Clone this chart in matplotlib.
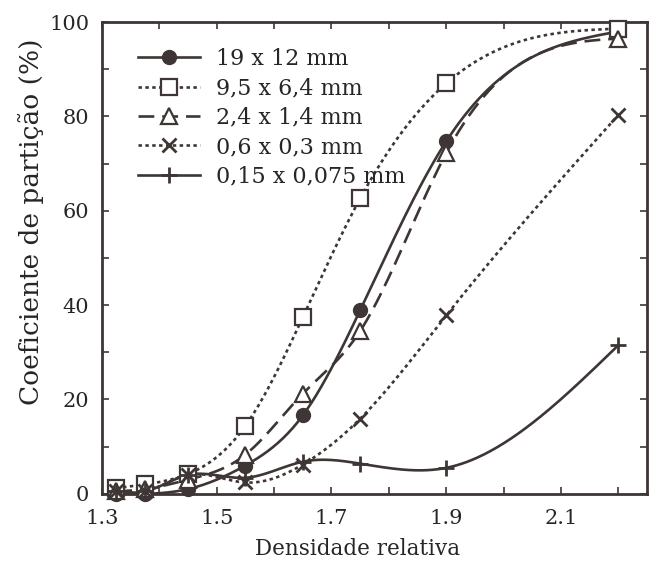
import numpy as np
import matplotlib
matplotlib.use("Agg")
import matplotlib.pyplot as plt
from matplotlib.ticker import MultipleLocator, FixedLocator

# Relative density of the float/sink fractions
densidade = [1.325, 1.375, 1.45, 1.55, 1.65, 1.75, 1.90, 2.20]

# Partition coefficient (%) per particle size class
d_19x12 = [0.0, 0.0, 1.0, 6.0, 16.6, 38.9, 74.7, 98.0]
d_95x64 = [1.2, 2.0, 4.2, 14.4, 37.4, 62.6, 87.0, 98.6]
d_24x14 = [0.5, 1.0, 3.0, 8.3, 21.2, 34.5, 72.2, 96.5]
d_06x03 = [0.5, 0.5, 4.0, 2.4, 6.2, 15.9, 37.8, 80.3]
d_015x0075 = [0.5, 0.5, 4.0, 3.4, 6.8, 6.4, 5.5, 31.5]

labels = ["19 x 12 mm", "9,5 x 6,4 mm", "2,4 x 1,4 mm",
          "0,6 x 0,3 mm", "0,15 x 0,075 mm"]

xticks = [1.3, 1.5, 1.7, 1.9, 2.1]
yticks = [0, 20, 40, 60, 80, 100]


def natural_spline(x, y, n=300):
    """Natural cubic spline through (x, y), evaluated on a fine grid."""
    x = np.asarray(x, float)
    y = np.asarray(y, float)
    m = len(x)
    h = np.diff(x)
    A = np.zeros((m, m))
    b = np.zeros(m)
    A[0, 0] = A[-1, -1] = 1.0
    for i in range(1, m - 1):
        A[i, i - 1] = h[i - 1]
        A[i, i] = 2 * (h[i - 1] + h[i])
        A[i, i + 1] = h[i]
        b[i] = 6 * ((y[i + 1] - y[i]) / h[i] - (y[i] - y[i - 1]) / h[i - 1])
    M = np.linalg.solve(A, b)
    xs = np.linspace(x[0], x[-1], n)
    idx = np.clip(np.searchsorted(x, xs) - 1, 0, m - 2)
    x0, x1 = x[idx], x[idx + 1]
    hh = x1 - x0
    t0 = x1 - xs
    t1 = xs - x0
    ys = (M[idx] * t0 ** 3 / (6 * hh) + M[idx + 1] * t1 ** 3 / (6 * hh)
          + (y[idx] / hh - M[idx] * hh / 6) * t0
          + (y[idx + 1] / hh - M[idx + 1] * hh / 6) * t1)
    return xs, ys


ink = "#3d3634"
txt = "#262626"
plt.rcParams["font.family"] = ["DejaVu Serif"]

fig = plt.figure(figsize=(6.49, 5.65), dpi=100)
ax = fig.add_axes([0.157, 0.126, 0.84, 0.835])

series = [
    (d_19x12, dict(ls="-", marker="o", ms=10, mfc=ink, mec=ink)),
    (d_95x64, dict(ls=(0, (1.3, 1.3)), marker="s", ms=12, mfc="white", mec=ink, mew=1.6)),
    (d_24x14, dict(ls=(0, (6, 3)), marker="^", ms=11, mfc="white", mec=ink, mew=1.6)),
    (d_06x03, dict(ls=(0, (1.3, 1.3)), marker="x", ms=10, mec=ink, mew=2.0)),
    (d_015x0075, dict(ls="-", marker="+", ms=12, mec=ink, mew=2.0)),
]

handles = []
for (vals, style), lab in zip(series, labels):
    xs, ys = natural_spline(densidade, vals)
    ax.plot(xs, ys, color=ink, lw=1.9, ls=style["ls"], clip_on=False,
            solid_capstyle="butt", dash_capstyle="butt")
    mk = {k: v for k, v in style.items() if k != "ls"}
    ax.plot(densidade, vals, ls="none", color=ink, clip_on=False, zorder=3, **mk)
    h, = ax.plot([], [], color=ink, lw=1.9, ls=style["ls"], label=lab, **mk)
    handles.append(h)

ax.set_xlim(1.3, 2.25)
ax.set_ylim(0, 100)
ax.xaxis.set_major_locator(FixedLocator(xticks))
ax.xaxis.set_minor_locator(MultipleLocator(0.1))
ax.yaxis.set_major_locator(FixedLocator(yticks))
ax.yaxis.set_minor_locator(MultipleLocator(10))
ax.set_xticklabels([f"{v:.1f}" for v in xticks])
ax.set_yticklabels([str(v) for v in yticks])

ax.tick_params(which="both", direction="in", top=True, right=True,
               length=5, width=1.2, color=ink, labelsize=15, labelcolor=txt)
ax.tick_params(axis="x", pad=11)
ax.tick_params(axis="y", pad=9)
for sp in ax.spines.values():
    sp.set_color(ink)
    sp.set_linewidth(2.0)

ax.set_xlabel("Densidade relativa", fontsize=15.5, color=txt)
ax.xaxis.set_label_coords(0.469, -0.093)
ax.set_ylabel("Coeficiente de partição (%)", fontsize=19, color=txt)
ax.yaxis.set_label_coords(-0.107, 0.576)

ax.legend(handles=handles, loc="upper left", bbox_to_anchor=(0.03, 0.987),
          frameon=False, fontsize=16, handlelength=2.8, handletextpad=0.7,
          labelspacing=0.33, labelcolor=txt)

fig.savefig("out.png", dpi=100, facecolor="white")
